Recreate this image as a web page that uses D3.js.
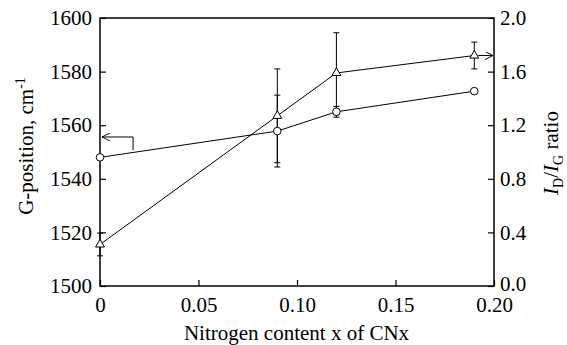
<!DOCTYPE html>
<html>
<head>
<meta charset="utf-8">
<script src="https://cdn.jsdelivr.net/npm/d3@7"></script>
<style>
  body { margin: 0; background: #fff; }
  text { font-family: "Liberation Serif", "Times New Roman", serif; fill: #000; }
  .axis path { display: none; }
  .axis line { stroke: #000; stroke-width: 1.2; }
  .axis text { font-size: 21px; }
  .axis-label { font-size: 21px; }
</style>
</head>
<body>
<svg id="chart"></svg>
<script>
// nitrogen content x of CNx
const nitrogen = [0, 0.09, 0.12, 0.19];
// G-position (cm-1), circles, left axis
const gPosition = [1548, 1557.8, 1565, 1572.7];
const gError = [0, 13.4, 2, 0];
// ID/IG ratio, triangles, right axis
const idIgRatio = [0.31, 1.27, 1.59, 1.72];
const idIgError = [0.085, 0.35, 0.3, 0.1];

const xTicks = [0, 0.05, 0.10, 0.15, 0.20];
const xTickLabels = ["0", "0.05", "0.10", "0.15", "0.20"];
const leftTicks = [1500, 1520, 1540, 1560, 1580, 1600];
const rightTicks = [0, 0.4, 0.8, 1.2, 1.6, 2.0];

const config = {
  width: 567,
  height: 345,
  margin: { top: 18, right: 73, bottom: 59, left: 100 }
};

const svg = d3.select("#chart")
  .attr("width", config.width)
  .attr("height", config.height);

const w = config.width - config.margin.left - config.margin.right;
const h = config.height - config.margin.top - config.margin.bottom;

const chart = svg.append("g")
  .attr("transform", `translate(${config.margin.left},${config.margin.top})`);

// scales
const x = d3.scaleLinear().domain([0, 0.2]).range([0, w]);
const yLeft = d3.scaleLinear().domain([1500, 1600]).range([h, 0]);
const yRight = d3.scaleLinear().domain([0, 2]).range([h, 0]);

// axes (ticks point inward)
chart.append("g")
  .attr("class", "axis")
  .attr("transform", `translate(0,${h})`)
  .call(d3.axisBottom(x).tickValues(xTicks)
    .tickFormat((d, i) => xTickLabels[i])
    .tickSizeInner(-6).tickSizeOuter(0).tickPadding(11));

chart.append("g")
  .attr("class", "axis")
  .call(d3.axisLeft(yLeft).tickValues(leftTicks)
    .tickFormat(d3.format("d"))
    .tickSizeInner(-6).tickSizeOuter(0).tickPadding(8));

const rightAxis = chart.append("g")
  .attr("class", "axis")
  .attr("transform", `translate(${w},0)`)
  .call(d3.axisRight(yRight).tickValues(rightTicks)
    .tickFormat(d3.format(".1f"))
    .tickSizeInner(-6).tickSizeOuter(0).tickPadding(6));
// nudge the bottom "0.0" up a little so it clears "0.20"
rightAxis.selectAll(".tick text").filter(d => d === 0).attr("dy", "0.2em");

// frame
chart.append("rect")
  .attr("width", w)
  .attr("height", h)
  .attr("fill", "none")
  .attr("stroke", "#000")
  .attr("stroke-width", 1.5);

// axis labels
svg.append("text")
  .attr("class", "axis-label")
  .attr("x", config.margin.left + w / 2 - 0.5)
  .attr("y", 340)
  .attr("text-anchor", "middle")
  .text("Nitrogen content x of CNx");

const leftLabel = svg.append("text")
  .attr("class", "axis-label")
  .attr("transform", "translate(33,146) rotate(-90)")
  .attr("text-anchor", "middle");
leftLabel.append("tspan").text("G-position, cm");
leftLabel.append("tspan").attr("dy", -8).style("font-size", "14px").text("-1");

const rightLabel = svg.append("text")
  .attr("class", "axis-label")
  .attr("transform", "translate(558,153) rotate(-90)")
  .attr("text-anchor", "middle");
rightLabel.append("tspan").style("font-style", "italic").text("I");
rightLabel.append("tspan").attr("dy", 5).style("font-size", "14px").text("D");
rightLabel.append("tspan").attr("dy", -5).text("/");
rightLabel.append("tspan").style("font-style", "italic").text("I");
rightLabel.append("tspan").attr("dy", 5).style("font-size", "14px").text("G");
rightLabel.append("tspan").attr("dy", -5).text(" ratio");

const gData = nitrogen.map((n, i) => ({ x: n, y: gPosition[i], e: gError[i] }));
const rData = nitrogen.map((n, i) => ({ x: n, y: idIgRatio[i], e: idIgError[i] }));

// error bars
function errorBars(data, yScale) {
  const g = chart.append("g").attr("stroke", "#000").attr("stroke-width", 1);
  const withErr = data.filter(d => d.e > 0);
  g.selectAll(".bar").data(withErr).join("line")
    .attr("x1", d => x(d.x)).attr("x2", d => x(d.x))
    .attr("y1", d => yScale(d.y - d.e)).attr("y2", d => yScale(d.y + d.e));
  [-1, 1].forEach(s => {
    g.selectAll(null).data(withErr).join("line")
      .attr("x1", d => x(d.x) - 3).attr("x2", d => x(d.x) + 3)
      .attr("y1", d => yScale(d.y + s * d.e)).attr("y2", d => yScale(d.y + s * d.e));
  });
}
errorBars(gData, yLeft);
errorBars(rData, yRight);

// lines
chart.append("path").datum(gData)
  .attr("fill", "none").attr("stroke", "#000").attr("stroke-width", 1)
  .attr("d", d3.line().x(d => x(d.x)).y(d => yLeft(d.y)));
chart.append("path").datum(rData)
  .attr("fill", "none").attr("stroke", "#000").attr("stroke-width", 1)
  .attr("d", d3.line().x(d => x(d.x)).y(d => yRight(d.y)));

// markers
chart.selectAll(".circ").data(gData).join("circle")
  .attr("cx", d => x(d.x)).attr("cy", d => yLeft(d.y)).attr("r", 3.8)
  .attr("fill", "#fff").attr("stroke", "#000").attr("stroke-width", 1);
chart.selectAll(".tri").data(rData).join("path")
  .attr("transform", d => `translate(${x(d.x)},${yRight(d.y)})`)
  .attr("d", d3.symbol(d3.symbolTriangle, 34))
  .attr("fill", "#fff").attr("stroke", "#000").attr("stroke-width", 1);

// arrows indicating which axis each series uses
const defs = svg.append("defs");
defs.append("marker")
  .attr("id", "head").attr("viewBox", "0 0 10 10")
  .attr("refX", 10).attr("refY", 5)
  .attr("markerWidth", 8).attr("markerHeight", 8)
  .attr("markerUnits", "userSpaceOnUse")
  .attr("orient", "auto")
  .append("path").attr("d", "M0,0 L10,5 L0,10").attr("fill", "none").attr("stroke", "#000").attr("stroke-width", 1.2);

chart.append("path")
  .attr("d", `M${x(0.0168)},${yLeft(1550.7)} V${yLeft(1555.6)} H${x(0) + 2}`)
  .attr("fill", "none").attr("stroke", "#000").attr("stroke-width", 1)
  .attr("marker-end", "url(#head)");

chart.append("path")
  .attr("d", `M${x(0.19) + 4},${yRight(1.72)} H${x(0.2) - 1}`)
  .attr("fill", "none").attr("stroke", "#000").attr("stroke-width", 1)
  .attr("marker-end", "url(#head)");
</script>
</body>
</html>
